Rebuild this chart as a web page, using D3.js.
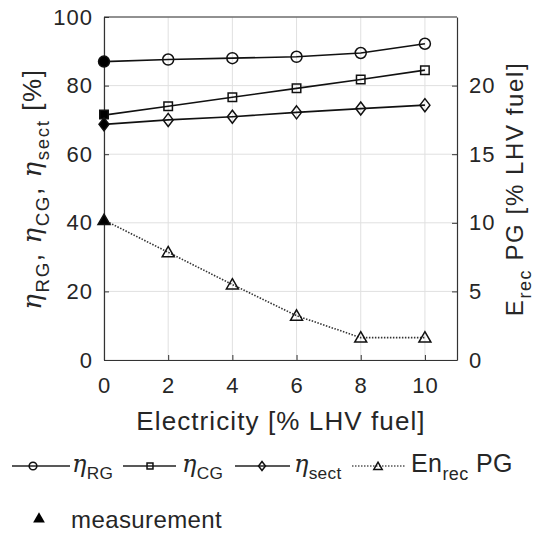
<!DOCTYPE html>
<html><head><meta charset="utf-8">
<script src="https://cdn.jsdelivr.net/npm/d3@7"></script>
<style>body{margin:0;background:#fff}svg{display:block}text{font-family:"Liberation Sans",Arial,sans-serif;fill:#262626}</style>
</head><body>
<script>
const xVals = [0, 2, 4, 6, 8, 10];
const etaRG = [87.0, 87.6, 88.0, 88.4, 89.5, 92.2];
const etaCG = [71.4, 74.0, 76.6, 79.2, 81.8, 84.5];
const etaSect = [68.7, 70.0, 70.9, 72.2, 73.3, 74.3];
const enRecPG = [10.2, 7.85, 5.5, 3.23, 1.63, 1.63];
const measRG = 87.0, measCG = 71.6, measSect = 68.7, measEn = 10.2;
const xTicks = [0, 2, 4, 6, 8, 10];
const yLeftTicks = [0, 20, 40, 60, 80, 100];
const yRightTicks = [0, 5, 10, 15, 20];

const W = 543, H = 534;
const svg = d3.select("body").append("svg").attr("width", W).attr("height", H);
const x = d3.scaleLinear().domain([0, 11]).range([104, 457]);
const yL = d3.scaleLinear().domain([0, 100]).range([360, 17]);
const yR = d3.scaleLinear().domain([0, 25]).range([360, 17]);

// grid
const g = svg.append("g");
g.selectAll(".gx").data(xTicks).join("line").attr("x1", d => x(d)).attr("x2", d => x(d))
  .attr("y1", 17).attr("y2", 360).attr("stroke", "#e0e0e0").attr("stroke-width", 1);
g.selectAll(".gy").data(yLeftTicks).join("line").attr("y1", d => yL(d)).attr("y2", d => yL(d))
  .attr("x1", 104).attr("x2", 457).attr("stroke", "#e0e0e0").attr("stroke-width", 1);

// axes
const axL = d3.axisLeft(yL).tickValues(yLeftTicks).tickSizeInner(-5).tickSizeOuter(0).tickPadding(11);
const axR = d3.axisRight(yR).tickValues(yRightTicks).tickSizeInner(-5).tickSizeOuter(0).tickPadding(12);
const axB = d3.axisBottom(x).tickValues(xTicks).tickSizeInner(-5).tickSizeOuter(0).tickPadding(17);
function style(sel){
  sel.selectAll("path").attr("stroke", "#333").attr("stroke-width", 1.2);
  sel.selectAll("line").attr("stroke", "#333");
  sel.selectAll("text").attr("font-size", 22).attr("letter-spacing", 1).attr("fill", "#262626").attr("font-family", "Liberation Sans, Arial, sans-serif");
}
svg.append("g").attr("transform", "translate(104,0)").call(axL).call(style);
svg.append("g").attr("transform", "translate(457,0)").call(axR).call(style);
svg.append("g").attr("transform", "translate(0,360)").call(axB).call(style);
svg.append("line").attr("x1", 104).attr("x2", 457).attr("y1", 17).attr("y2", 17).attr("stroke", "#333").attr("stroke-width", 1.2);

// lines
const lineL = d3.line().x((d, i) => x(xVals[i])).y(d => yL(d));
const lineR = d3.line().x((d, i) => x(xVals[i])).y(d => yR(d));
[etaRG, etaCG, etaSect].forEach(s => {
  svg.append("path").attr("d", lineL(s)).attr("fill", "none").attr("stroke", "#111").attr("stroke-width", 1.6);
});
svg.append("path").attr("d", lineR(enRecPG)).attr("fill", "none").attr("stroke", "#333")
  .attr("stroke-width", 1.6).attr("stroke-dasharray", "1.5,1.5");

function diamondPath(w, h){ return `M0,${-h/2}L${w/2},0L0,${h/2}L${-w/2},0Z`; }
function marker(cx, cy, kind, filled, scale){
  scale = scale || 1;
  let d;
  if (kind === "diamond") d = diamondPath(10*scale, 13*scale);
  else d = d3.symbol().type(kind === "circle" ? d3.symbolCircle : kind === "square" ? d3.symbolSquare : d3.symbolTriangle)
    .size((kind === "circle" ? 95 : kind === "square" ? 72 : 62) * scale * scale)();
  svg.append("path").attr("d", d).attr("transform", `translate(${cx},${cy})`)
    .attr("fill", filled ? "#000" : "#fff").attr("fill-opacity", filled ? 1 : 0.0)
    .attr("stroke", "#111").attr("stroke-width", 1.5);
}
xVals.forEach((v, i) => {
  if (i === 0) return;
  marker(x(v), yL(etaRG[i]), "circle", false);
  marker(x(v), yL(etaCG[i]), "square", false);
  marker(x(v), yL(etaSect[i]), "diamond", false);
  marker(x(v), yR(enRecPG[i]) + 1, "triangle", false);
});
marker(x(0), yL(measRG), "circle", true);
marker(x(0), yL(measCG), "square", true);
marker(x(0), yL(measSect), "diamond", true);
marker(x(0), yR(measEn) + 1, "triangle", true);

// axis labels
svg.append("text").attr("x", 281).attr("y", 430).attr("text-anchor", "middle").attr("font-size", 26)
  .attr("letter-spacing", 1.1).text("Electricity [% LHV fuel]");

function etaLabel(sel, parts, fs){
  parts.forEach(p => {
    if (p.t === "eta") sel.append("tspan").attr("font-family", "DejaVu Serif, serif").attr("font-style", "italic").attr("font-size", fs).text("η");
    else if (p.t === "sub") sel.append("tspan").attr("font-size", fs*0.72).attr("dy", fs*0.3).text(p.s);
    else sel.append("tspan").attr("font-size", fs).attr("dy", p.dy || 0).text(p.s);
  });
}
const ly = svg.append("text").attr("transform", "translate(41,189) rotate(-90)").attr("text-anchor", "middle").attr("letter-spacing", 1.6);
etaLabel(ly, [{t:"eta"},{t:"sub",s:"RG"},{t:"txt",s:", ",dy:-7.8},{t:"eta"},{t:"sub",s:"CG"},{t:"txt",s:", ",dy:-7.8},{t:"eta"},{t:"sub",s:"sect"},{t:"txt",s:" [%]",dy:-7.8}], 26);

const ry = svg.append("text").attr("transform", "translate(523,189) rotate(-90)").attr("text-anchor", "middle").attr("letter-spacing", 1.6);
ry.append("tspan").attr("font-size", 24).text("E");
ry.append("tspan").attr("font-size", 18).attr("dy", 8).text("rec");
ry.append("tspan").attr("font-size", 24).attr("dy", -8).text(" PG [% LHV fuel]");

// legend
const legY = 466;
const legItems = [
  {x1: 12, x2: 70, mx: 33, kind: "circle", tx: 72, lab: "RG", dash: null},
  {x1: 123, x2: 176, mx: 150, kind: "square", tx: 182, lab: "CG", dash: null},
  {x1: 235, x2: 290, mx: 262, kind: "diamond", tx: 294, lab: "sect", dash: null},
  {x1: 352, x2: 405, mx: 378, kind: "triangle", tx: 411, lab: "rec", dash: "1.5,1.5"}
];
legItems.forEach(it => {
  svg.append("line").attr("x1", it.x1).attr("x2", it.x2).attr("y1", legY).attr("y2", legY)
    .attr("stroke", it.dash ? "#555" : "#222").attr("stroke-width", 1.6).attr("stroke-dasharray", it.dash);
  marker(it.mx, legY + (it.kind === "triangle" ? 1 : 0), it.kind, false, 0.7);
  const t = svg.append("text").attr("x", it.tx).attr("y", legY + 6);
  if (it.kind === "triangle") {
    t.attr("letter-spacing", 0.4);
    t.append("tspan").attr("font-size", 25).text("En");
    t.append("tspan").attr("font-size", 18).attr("dy", 8).text("rec");
    t.append("tspan").attr("font-size", 25).attr("dy", -8).text(" PG");
  } else {
    t.attr("letter-spacing", 0.3);
    etaLabel(t, [{t:"eta"},{t:"sub",s:it.lab}], 24);
  }
});
svg.append("path").attr("d", d3.symbol().type(d3.symbolTriangle).size(60)()).attr("transform", "translate(39,519)").attr("fill", "#000");
svg.append("text").attr("x", 71).attr("y", 528).attr("font-size", 24).attr("letter-spacing", 0.4).text("measurement");
</script>
</body></html>
